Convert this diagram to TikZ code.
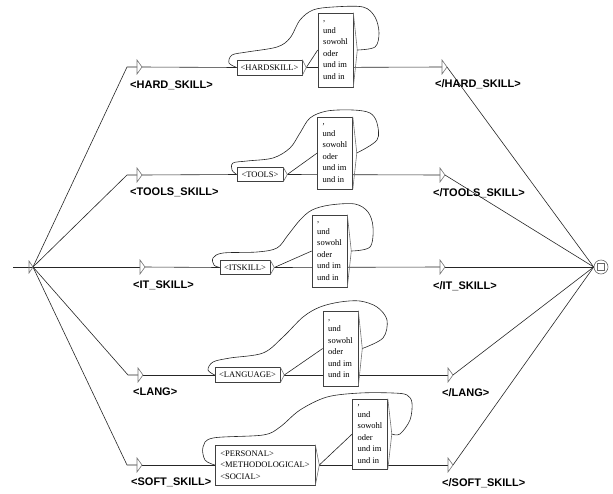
\documentclass[tikz,border=0pt]{standalone}
\usepackage{fontspec}
\setmainfont{Liberation Serif}
\newfontfamily\lblfont{Liberation Sans}
\pgfdeclarelayer{background}
\pgfsetlayers{background,main}
\begin{document}
\begin{tikzpicture}[x=1pt,y=-1pt,
  tbox/.style={draw=black!75, fill=white, line width=0.6pt, inner sep=0pt,
    font=\fontsize{8.5}{11.5}\selectfont, align=left, anchor=center},
  lbl/.style={font=\lblfont\bfseries\fontsize{11}{13}\selectfont, anchor=west, inner sep=0pt},
  conn/.style={draw=black!85, line width=0.6pt},
  loopc/.style={draw=black!85, line width=0.6pt, smooth, tension=0.55},
  tri/.style={draw=black!55, line width=0.6pt}
]
\useasboundingbox (0,0) rectangle (613,493);

% ---------- initial and final states ----------
\coordinate (inl) at (13,267);
\coordinate (ini) at (33,267);
\draw[tri] (29,261) -- (ini) -- (29,273) -- cycle;
\node[circle, draw=black!60, line width=0.6pt, minimum size=14pt, inner sep=0pt] (fin) at (601,267) {};
\node[draw=black!60, line width=0.6pt, minimum size=7pt, inner sep=0pt] (finsq) at (fin) {};

% ---------- start markers ----------
\foreach \n/\x/\y in {1/137/67, 2/137/175, 3/140/267, 4/138/375, 5/137/465}{
  \coordinate (s\n) at (\x,\y);
  \coordinate (s\n t) at (\x+5,\y);
  \draw[tri] (\x,\y-7) -- (\x+5,\y) -- (\x,\y+7) -- cycle;
}
% ---------- end markers ----------
\foreach \n/\x/\y in {1/442/67, 2/440/175, 3/440/267, 4/448/375, 5/448/465}{
  \coordinate (e\n) at (\x,\y);
  \coordinate (e\n t) at (\x+5,\y);
  \draw[tri] (\x,\y-7) -- (\x+5,\y) -- (\x,\y+7) -- cycle;
}

% ---------- labels ----------
\node[lbl] (ls1) at (130,85)  {<HARD\_SKILL>};
\node[lbl] (ls2) at (130,192) {<TOOLS\_SKILL>};
\node[lbl] (ls3) at (133,285) {<IT\_SKILL>};
\node[lbl] (ls4) at (133,392) {<LANG>};
\node[lbl] (ls5) at (131,482) {<SOFT\_SKILL>};
\node[lbl] (le1) at (435,84)  {</HARD\_SKILL>};
\node[lbl] (le2) at (433,193) {</TOOLS\_SKILL>};
\node[lbl] (le3) at (433,286) {</IT\_SKILL>};
\node[lbl] (le4) at (442,393) {</LANG>};
\node[lbl] (le5) at (442,483) {</SOFT\_SKILL>};

% ---------- boxes ----------
\node[tbox, minimum width=65pt, minimum height=15pt] (b1) at (269.5,67.5) {<HARDSKILL>};
\node[tbox, minimum width=46pt, minimum height=14pt] (b2) at (260,174.5) {<TOOLS>};
\node[tbox, minimum width=50pt, minimum height=14pt] (b3) at (245,267.5) {<ITSKILL>};
\node[tbox, minimum width=65pt, minimum height=15pt] (b4) at (247.5,375) {<LANGUAGE>};
\node[tbox, minimum width=100pt, minimum height=40pt] (b5) at (265,465) {<PERSONAL>\\<METHODOLOGICAL>\\<SOCIAL>};

\node[tbox, minimum width=35pt, minimum height=74pt] (l1) at (335.5,50) {,\\und\\sowohl\\oder\\und im\\und in};
\node[tbox, minimum width=35pt, minimum height=72pt] (l2) at (335,153) {,\\und\\sowohl\\oder\\und im\\und in};
\node[tbox, minimum width=35pt, minimum height=72pt] (l3) at (329.5,251) {,\\und\\sowohl\\oder\\und im\\und in};
\node[tbox, minimum width=35pt, minimum height=75pt] (l4) at (340.5,348.5) {,\\und\\sowohl\\oder\\und im\\und in};
\node[tbox, minimum width=35pt, minimum height=70pt] (l5) at (370,434) {,\\und\\sowohl\\oder\\und im\\und in};

% box output triangles
\foreach \b in {b1,b2,b3,b4,b5,l1,l2,l3,l4,l5}{
  \coordinate (\b t) at ([xshift=4pt]\b.east);
  \draw[tri] (\b.north east) -- (\b t) -- (\b.south east);
}

% ---------- connectors (behind boxes) ----------
\begin{pgfonlayer}{background}
\draw[conn] (inl) -- (ini);
\draw[conn] (ini) -- ([xshift=-10pt]s1) -- (s1);
\draw[conn] (ini) -- ([xshift=-10pt]s2) -- (s2);
\draw[conn] (ini) -- (s3);
\draw[conn] (ini) -- ([xshift=-10pt]s4) -- (s4);
\draw[conn] (ini) -- ([xshift=-10pt]s5) -- (s5);

\foreach \n in {1,...,5}{
  \draw[conn] (s\n t) -- (b\n.west);
  \draw[conn] (b\n t) -- (e\n);
  \draw[conn] (b\n t) -- (l\n.west);
  \draw[conn] (e\n t) -- (fin.west);
}

\draw[loopc] plot coordinates {(l1t) (375,47) (379,33) (375,17) (363,7) (333,7) (313,10) (300,20) (290,38) (277,47) (247,52) (232,55) (229,63) (b1.west)};
\draw[loopc] plot coordinates {(l2t) (377,140) (377,123) (370,113) (353,110) (327,111) (310,118) (300,133) (290,148) (273,158) (247,161) (233,163) (232,170) (b2.west)};
\draw[loopc] plot coordinates {(l3t) (370,247) (373,227) (368,212) (355,204) (330,205) (312,210) (300,220) (288,235) (277,248) (257,252) (223,253) (213,258) (214,265) (b3.west)};
\draw[loopc] plot coordinates {(l4t) (383,338) (387,320) (377,307) (360,301) (340,302) (320,307) (303,317) (283,337) (263,353) (230,358) (213,362) (208,370) (b4.west)};
\draw[loopc] plot coordinates {(l5t) (400,434) (410,420) (412,403) (407,395) (393,393) (360,393) (327,397) (300,410) (280,427) (263,435) (213,438) (203,447) (205,460) (b5.west)};
\end{pgfonlayer}
\end{tikzpicture}
\end{document}
